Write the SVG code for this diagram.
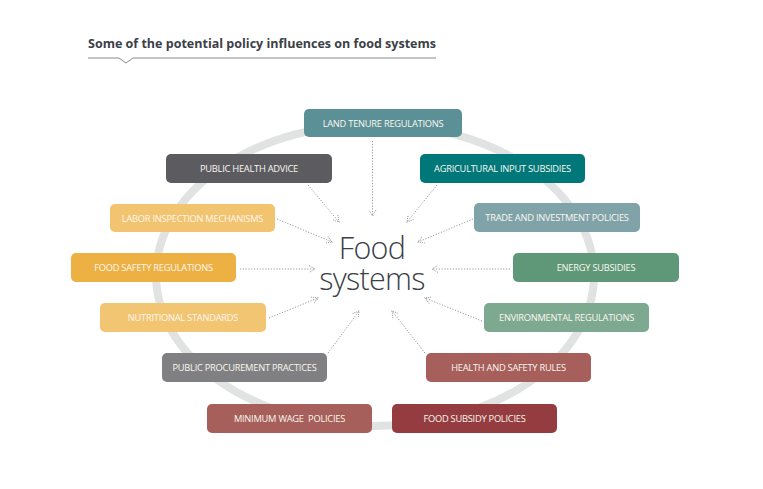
<svg xmlns="http://www.w3.org/2000/svg" width="763" height="489" viewBox="0 0 763 489">
<style>
.title{font-family:"Open Sans","Liberation Sans",sans-serif;font-weight:700;font-size:13px;fill:#3b4047}
.box{stroke:none}
.lbl{font-family:"Open Sans","Liberation Sans",sans-serif;font-size:9.3px;fill:#fbf7f0;text-anchor:middle;letter-spacing:-0.25px}
.big{font-family:"Open Sans","Liberation Sans",sans-serif;font-weight:300;font-size:30.5px;fill:#3c4046;text-anchor:middle;letter-spacing:-0.7px}
.con{fill:none;stroke:#9a9a9a;stroke-width:1;stroke-dasharray:1.2 1.6;marker-end:url(#arr)}
</style>
<defs>
<marker id="arr" markerUnits="userSpaceOnUse" markerWidth="10" markerHeight="10" refX="7" refY="4" orient="auto">
<path d="M1,0.5 L7,4 L1,7.5" fill="none" stroke="#9a9a9a" stroke-width="1" stroke-dasharray="1 1"/>
</marker>
</defs>
<rect width="763" height="489" fill="#ffffff"/>
<g id="title">
<text class="title" x="88" y="47.5" textLength="348" lengthAdjust="spacingAndGlyphs">Some of the potential policy influences on food systems</text>
<path d="M88,58 H119 L126,63 L133,58 H436" fill="none" stroke="#8a8a8a" stroke-width="1"/>
</g>
<g id="ring">
<ellipse cx="375" cy="275" rx="219" ry="151" fill="none" stroke="#e1e2e2" stroke-width="8"/>
</g>
<g id="center">
<text class="big" x="372" y="259">Food</text>
<text class="big" x="372" y="290">systems</text>
</g>
<g id="connectors">
<path class="con" d="M372.5,141 V216"/>
<path class="con" d="M308,185 L339,222"/>
<path class="con" d="M437,185 L407,222"/>
<path class="con" d="M277,219 L332,242"/>
<path class="con" d="M473,219 L418,242"/>
<path class="con" d="M240,269 L315,269"/>
<path class="con" d="M510,269 L432,269"/>
<path class="con" d="M269,318 L318,298"/>
<path class="con" d="M482,321 L425,298"/>
<path class="con" d="M328,353 L359,311"/>
<path class="con" d="M425,353 L392,311"/>
</g>
<g id="n1"><rect class="box" x="304" y="109" width="158" height="28" rx="5" fill="#5b9096"/><text class="lbl" x="383" y="126.5">LAND TENURE REGULATIONS</text></g>
<g id="n2"><rect class="box" x="166" y="154" width="166" height="29" rx="5" fill="#5c5c60"/><text class="lbl" x="249" y="171.5">PUBLIC HEALTH ADVICE</text></g>
<g id="n3"><rect class="box" x="420" y="154" width="165" height="29" rx="5" fill="#00787a"/><text class="lbl" x="502.5" y="171.5">AGRICULTURAL INPUT SUBSIDIES</text></g>
<g id="n4"><rect class="box" x="110" y="204" width="165" height="28" rx="5" fill="#f2c46f"/><text class="lbl" x="192.5" y="221.5">LABOR INSPECTION MECHANISMS</text></g>
<g id="n5"><rect class="box" x="474" y="203" width="166" height="29" rx="5" fill="#7fa3a9"/><text class="lbl" x="557" y="220.5">TRADE AND INVESTMENT POLICIES</text></g>
<g id="n6"><rect class="box" x="71" y="253" width="165" height="29" rx="5" fill="#edb143"/><text class="lbl" x="153.5" y="270.5">FOOD SAFETY REGULATIONS</text></g>
<g id="n7"><rect class="box" x="513" y="253" width="166" height="29" rx="5" fill="#5e9878"/><text class="lbl" x="596" y="270.5">ENERGY SUBSIDIES</text></g>
<g id="n8"><rect class="box" x="100" y="303" width="166" height="29" rx="5" fill="#f2c572"/><text class="lbl" x="183" y="320.5">NUTRITIONAL STANDARDS</text></g>
<g id="n9"><rect class="box" x="484" y="303" width="165" height="29" rx="5" fill="#7ea991"/><text class="lbl" x="566.5" y="320.5">ENVIRONMENTAL REGULATIONS</text></g>
<g id="n10"><rect class="box" x="162" y="353" width="165" height="29" rx="5" fill="#808082"/><text class="lbl" x="244.5" y="370.5">PUBLIC PROCUREMENT PRACTICES</text></g>
<g id="n11"><rect class="box" x="426" y="353" width="165" height="29" rx="5" fill="#a65f5a"/><text class="lbl" x="508.5" y="370.5">HEALTH AND SAFETY RULES</text></g>
<g id="n12"><rect class="box" x="207" y="404" width="165" height="29" rx="5" fill="#a65f5a"/><text class="lbl" x="289.5" y="421.5" xml:space="preserve">MINIMUM WAGE  POLICIES</text></g>
<g id="n13"><rect class="box" x="392" y="404" width="165" height="29" rx="5" fill="#943c3f"/><text class="lbl" x="474.5" y="421.5">FOOD SUBSIDY POLICIES</text></g>
</svg>
